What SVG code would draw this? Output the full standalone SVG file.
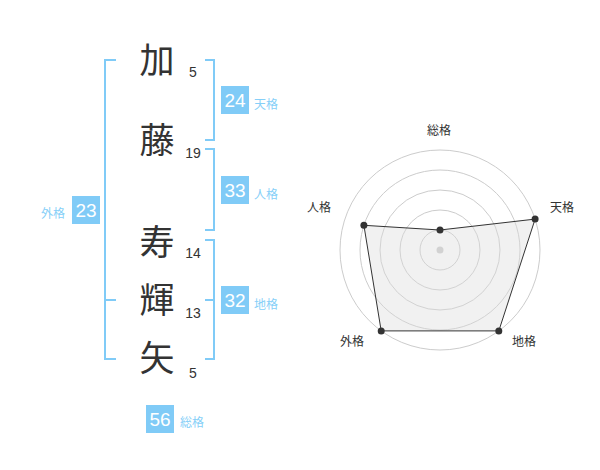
<svg xmlns="http://www.w3.org/2000/svg" width="600" height="470" viewBox="0 0 600 470">
<style>
.ch{font-family:"Noto Sans CJK JP","Noto Sans CJK SC",sans-serif;font-size:35px;fill:#333;text-anchor:middle}
.num{font-family:"Liberation Sans",Arial,sans-serif;font-size:14px;fill:#333;text-anchor:middle}
.br{fill:none;stroke:#80cbf7;stroke-width:2}
.box{fill:#80cbf7}
.bt{font-family:"Liberation Sans",Arial,sans-serif;font-size:19px;fill:#fff;text-anchor:middle}
.lb{font-family:"Noto Sans CJK JP","Noto Sans CJK SC",sans-serif;font-size:12px;fill:#86cff8}
.ring{fill:none;stroke:#ccc;stroke-width:1}
.rl{font-family:"Noto Sans CJK JP","Noto Sans CJK SC",sans-serif;font-size:12px;fill:#333;text-anchor:middle}
.pt{fill:#333}
</style>
<g id="connectors">
<path class="br" d="M116,60 H105 V359 H116 M105,300 H116"/>
<path class="br" d="M205,60 H214 V140 H205"/>
<path class="br" d="M205,149 H214 V230 H205"/>
<path class="br" d="M205,240 H214 V359 H205 M214,300 H205"/>
</g>
<g id="char-ka"><text class="ch" x="157" y="73">加</text><text class="num" x="193" y="77">5</text></g>
<g id="char-to"><text class="ch" x="157" y="153">藤</text><text class="num" x="193" y="158">19</text></g>
<g id="char-ju"><text class="ch" x="157" y="255">寿</text><text class="num" x="193" y="258">14</text></g>
<g id="char-ki"><text class="ch" x="157" y="313">輝</text><text class="num" x="193" y="318">13</text></g>
<g id="char-ya"><text class="ch" x="157" y="371">矢</text><text class="num" x="193" y="378">5</text></g>
<g id="tenkaku"><rect class="box" x="221" y="86" width="28" height="28"/><text class="bt" x="235" y="107">24</text><text class="lb" x="254" y="109">天格</text></g>
<g id="jinkaku"><rect class="box" x="221" y="176" width="28" height="28"/><text class="bt" x="235" y="197">33</text><text class="lb" x="254" y="199">人格</text></g>
<g id="chikaku"><rect class="box" x="221" y="286" width="28" height="28"/><text class="bt" x="235" y="307">32</text><text class="lb" x="254" y="309">地格</text></g>
<g id="gaikaku"><rect class="box" x="72" y="196" width="28" height="28"/><text class="bt" x="86" y="217">23</text><text class="lb" x="41" y="218">外格</text></g>
<g id="soukaku"><rect class="box" x="146" y="405" width="28" height="28"/><text class="bt" x="160" y="426">56</text><text class="lb" x="180" y="427">総格</text></g>
<g id="radar">
<circle class="ring" cx="440" cy="250" r="20"/>
<circle class="ring" cx="440" cy="250" r="40"/>
<circle class="ring" cx="440" cy="250" r="60"/>
<circle class="ring" cx="440" cy="250" r="80"/>
<circle class="ring" cx="440" cy="250" r="100"/>
<circle cx="440" cy="250" r="3.5" fill="#ccc"/>
<polygon points="440,230 535.1,219.1 498.8,330.9 381.2,330.9 363.9,225.3" fill="rgba(220,220,220,0.4)" stroke="#333" stroke-width="1"/>
<circle class="pt" cx="440" cy="230" r="3.5"/>
<circle class="pt" cx="535.1" cy="219.1" r="3.5"/>
<circle class="pt" cx="498.8" cy="330.9" r="3.5"/>
<circle class="pt" cx="381.2" cy="330.9" r="3.5"/>
<circle class="pt" cx="363.9" cy="225.3" r="3.5"/>
<text class="rl" x="439" y="135">総格</text>
<text class="rl" x="562" y="212">天格</text>
<text class="rl" x="319" y="212">人格</text>
<text class="rl" x="352" y="346">外格</text>
<text class="rl" x="524" y="346">地格</text>
</g>
</svg>
